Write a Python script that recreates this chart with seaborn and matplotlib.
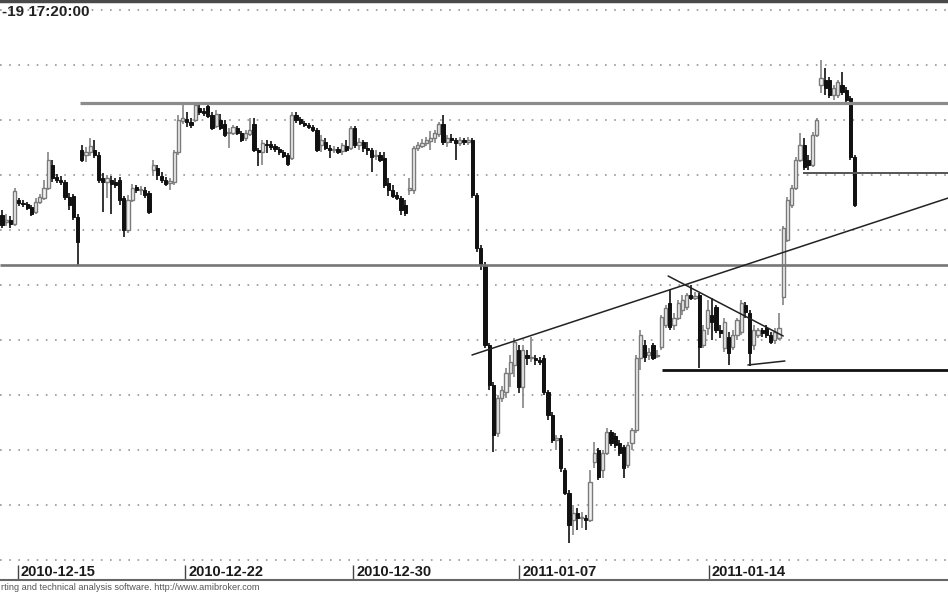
import matplotlib
matplotlib.use("Agg")
import matplotlib.pyplot as plt
import matplotlib.transforms as mtrans
import seaborn as sns
import numpy as np
import pandas as pd

# ---------------- data (hourly bars, price in chart units) ----------------
open_ = [385,378,380,376,400,397,396,393,388,398,402,412,435,423,420,418,403,404,383,450,
         445,448,450,445,422,418,420,418,420,402,370,400,413,410,410,407,430,432,424,420,
         417,418,448,479,481,478,480,492,489,494,485,474,480,476,467,467,472,467,462,466,
         476,450,448,456,456,454,451,448,445,442,485,481,477,475,473,470,455,458,452,450,
         451,449,454,452,472,455,458,452,450,444,445,442,417,410,405,402,395,410,410,452,
         454,457,459,462,466,476,458,462,460,457,460,458,460,405,352,335,255,215,167,202,
         208,227,235,250,213,245,242,242,240,242,208,185,160,162,130,107,80,87,82,82,
         80,138,150,130,147,168,164,157,153,135,157,170,242,255,245,255,244,253,275,297,
         275,282,290,293,305,302,305,255,272,285,293,270,252,263,253,265,268,295,287,255,
         265,270,272,265,260,262,303,360,395,412,440,455,440,435,465,515,520,520,505,505,
         515,510,502,443]
high = [390,386,384,412,402,400,398,395,402,406,420,448,440,426,424,420,407,406,386,455,
        453,462,460,448,427,425,424,422,423,404,405,416,415,414,413,409,440,435,428,423,
        422,450,485,497,488,482,497,496,492,497,488,490,486,480,472,475,474,469,470,482,
        482,452,460,460,459,456,453,450,447,488,488,483,479,477,475,472,465,462,455,454,
        453,457,460,474,474,462,460,458,452,450,448,448,422,415,408,404,400,422,454,458,
        461,463,469,470,478,485,465,466,462,463,462,463,462,407,355,338,257,218,205,214,
        232,245,262,255,255,250,263,245,243,245,210,188,165,165,132,110,95,92,88,85,
        130,158,152,150,172,170,167,160,155,158,172,245,270,260,252,257,250,285,295,310,
        287,300,305,307,315,308,307,275,300,302,295,275,282,268,270,282,300,298,290,275,
        272,272,275,268,272,287,374,403,415,443,467,462,445,468,482,540,532,523,515,520,
        528,513,504,445]
low = [372,374,372,374,394,393,390,384,386,396,400,410,418,417,415,400,390,380,335,438,
       438,444,442,417,388,402,386,412,395,363,367,398,407,405,402,386,424,420,417,414,
       410,415,445,476,473,472,478,485,484,482,470,472,470,463,452,465,465,458,459,464,
       448,434,435,447,450,448,445,442,434,440,477,475,473,471,468,448,448,450,442,447,
       446,445,448,450,452,450,448,445,428,440,438,412,404,402,400,385,384,405,406,449,
       452,454,450,457,463,455,453,457,440,454,455,455,402,348,330,252,210,148,163,198,
       202,213,223,207,192,235,238,235,235,205,180,157,150,128,105,57,65,70,72,70,
       78,132,120,122,145,154,152,144,122,132,150,167,230,238,240,240,242,250,272,270,
       270,280,285,290,300,300,232,252,265,260,267,262,248,235,250,260,265,282,234,250,
       262,263,262,256,256,260,295,358,392,410,438,430,430,433,463,507,505,502,500,502,
       505,497,440,393]
close = [375,380,376,409,397,396,392,386,398,403,412,440,422,420,418,403,395,383,358,440,
         448,454,445,420,418,422,416,415,400,370,400,412,410,411,405,388,435,425,420,416,
         419,448,480,482,478,475,495,488,487,484,472,486,472,465,467,473,467,460,467,470,
         450,448,457,455,453,451,448,444,436,485,480,477,475,473,470,450,460,452,450,451,
         448,455,450,472,455,458,452,450,443,445,440,415,410,404,402,390,387,412,452,455,
         457,460,462,467,476,458,462,460,457,460,458,460,405,352,335,255,215,165,202,210,
         227,238,258,213,250,242,243,240,238,208,185,160,162,132,107,75,87,82,83,80,
         118,147,123,147,168,157,155,147,132,155,170,242,265,243,248,242,245,283,292,273,
         282,297,300,305,302,304,253,270,290,278,270,267,278,247,265,280,297,288,247,270,
         270,267,265,258,268,272,372,400,412,440,455,433,435,465,480,522,512,505,512,518,
         508,500,443,395]

date_labels = ["2010-12-15", "2010-12-22", "2010-12-30", "2011-01-07", "2011-01-14"]
date_bars = [3.8, 43.6, 83.6, 123.1, 168.3]          # bar index where each day starts
grid_levels = [40, 95, 150, 205, 260, 315, 370, 425, 480, 535, 590]

# horizontal levels drawn on the chart: (start bar, level, colour, width)
level_start = [18.6, -1.0, 190.7, 157.1]
level_value = [497, 335, 427, 230]
level_color = ["#8c8c8c", "#767676", "#555555", "#111111"]
level_width = [2.3, 1.9, 1.4, 2.0]

# sloped trend lines: (bar0, price0, bar1, price1)
trend_b0 = [111.9, 158.6, 177.6]
trend_p0 = [245, 324, 235]
trend_b1 = [225.3, 186.0, 186.4]
trend_p1 = [402, 264, 239]

# visible (cropped) texts of the reference
title_text = "-19 17:20:00"
footer_text = "rting and technical analysis software. http://www.amibroker.com"

# ---------------- figure ----------------
sns.set_theme(style="white")
plt.rcParams['font.family'] = ['Liberation Sans', 'DejaVu Sans']

df = pd.DataFrame({"bar": np.arange(len(close)), "open": open_, "high": high,
                   "low": low, "close": close})
df["up"] = df["close"] >= df["open"]
df["body_lo"] = df[["open", "close"]].min(axis=1)
df["body_h"] = (df["close"] - df["open"]).abs().clip(lower=1.5)

W, H = 948, 593
fig = plt.figure(figsize=(W / 100, H / 100), dpi=100)
fig.patch.set_facecolor("white")
ax = fig.add_axes([0, 13 / H, 1, 579 / H])
XMIN, XMAX = -0.476, 225.24
ax.set_xlim(XMIN, XMAX)
ax.set_ylim(20, 599)
ax.set_facecolor("white")

# dotted grid
for lv in grid_levels:
    ax.axhline(lv, color="#969696", lw=1.2, ls=(0, (1, 4.5)), zorder=0)

# candles
up = df[df["up"]]
dn = df[~df["up"]]
ax.vlines(up["bar"], up["low"], up["high"], color="#858585", lw=1.2, zorder=2)
ax.vlines(dn["bar"], dn["low"], dn["high"], color="#111111", lw=1.2, zorder=2)
ax.bar(up["bar"], up["body_h"], bottom=up["body_lo"], width=0.8,
       color="#f2f2f2", edgecolor="#7a7a7a", linewidth=1.0, zorder=3)
ax.bar(dn["bar"], dn["body_h"], bottom=dn["body_lo"], width=0.8,
       color="#111111", edgecolor="#111111", linewidth=0.7, zorder=3)

# horizontal levels
for s, v, c, w in zip(level_start, level_value, level_color, level_width):
    ax.plot([max(s, XMIN), XMAX], [v, v], color=c, lw=w, zorder=4, solid_capstyle="butt")

# trend lines
for b0, p0, b1, p1 in zip(trend_b0, trend_p0, trend_b1, trend_p1):
    ax.plot([b0, b1], [p0, p1], color="#222222", lw=1.1, zorder=4)

# axes styling
for side in ["left", "right"]:
    ax.spines[side].set_visible(False)
ax.spines["top"].set_color("#4a4a4a")
ax.spines["top"].set_linewidth(2.5)
ax.spines["bottom"].set_color("#666666")
ax.spines["bottom"].set_linewidth(1.5)
ax.grid(False)
ax.set_yticks([])
ax.set_xticks(date_bars)
ax.set_xticklabels(date_labels, fontsize=10.5, fontweight="bold", color="#1a1a1a")
ax.tick_params(axis="x", bottom=True, direction="in", length=11, width=1,
               color="#444444", pad=-11)
offset = mtrans.ScaledTranslation(3 / 100, 0, fig.dpi_scale_trans)
for lbl in ax.get_xticklabels():
    lbl.set_horizontalalignment("left")
    lbl.set_transform(lbl.get_transform() + offset)

fig.text(2 / W, 1 - 12 / H, title_text, ha="left", va="center",
         fontsize=11, fontweight="bold", color="#222222")
fig.text(1 / W, 1 - 588 / H, footer_text, ha="left", va="center",
         fontsize=6.6, color="#555555")

fig.savefig("out.png", dpi=100, facecolor="white")
